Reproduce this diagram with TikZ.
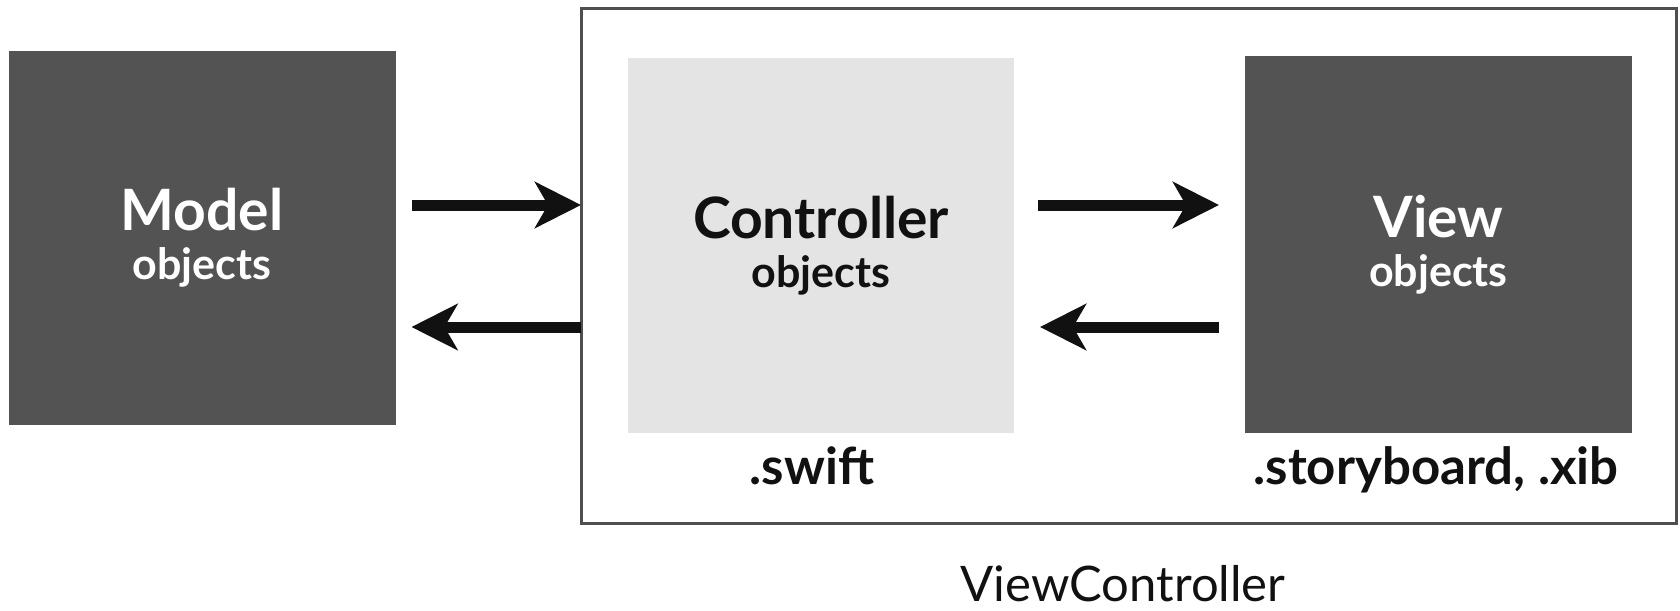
\documentclass[tikz,border=0pt]{standalone}
\usepackage{fontspec}
\setmainfont{Lato}
\usetikzlibrary{arrows.meta}
\definecolor{darkbox}{HTML}{535353}
\definecolor{lightbox}{HTML}{E4E4E4}
\definecolor{frame}{HTML}{4F4F4F}
\definecolor{ink}{HTML}{111111}
\tikzset{
  box/.style={rectangle, inner sep=0pt, outer sep=0pt, align=center,
    font=\bfseries\fontsize{57pt}{49pt}\selectfont},
  darkstyle/.style={box, fill=darkbox, text=white},
  lightstyle/.style={box, fill=lightbox, text=ink},
  frameline/.style={draw=frame, line width=3pt},
  arr/.style={line width=11pt, ink, -{Stealth[length=46pt, width=46pt, inset=13pt]}},
  lbl/.style={font=\bfseries\fontsize{51pt}{55pt}\selectfont, text=ink, anchor=base, inner sep=0pt},
  caption/.style={font=\fontsize{49pt}{55pt}\selectfont, text=ink, anchor=base, inner sep=0pt}
}
\newcommand{\subline}{\fontsize{43pt}{49pt}\selectfont}
\begin{document}
\begin{tikzpicture}[x=1pt,y=-1pt]
\useasboundingbox (0,0) rectangle (1680,610);
% outer ViewController frame
\node[frameline, rectangle, inner sep=0pt, outer sep=0pt, minimum width=1095pt, minimum height=514pt] (outer) at (1128.5,266) {};
% boxes
\node[darkstyle, minimum width=387pt, minimum height=374pt] (model) at (202,238) {Model\\{\subline objects}};
\node[lightstyle, minimum width=386pt, minimum height=375pt] (ctrl) at (821,245.5) {Controller\\{\subline objects}};
\node[darkstyle, minimum width=387pt, minimum height=377pt] (view) at (1438.5,244.5) {View\\{\subline objects}};
% labels
\node[lbl] (swift) at (812,484) {.swift};
\node[lbl] (sb) at (1436,484) {.storyboard, .xib};
\node[caption] (vc) at (1123,601) {ViewController};
% rows
\coordinate (r1) at (0,205);
\coordinate (r2) at (0,327);
% arrows
\draw[arr, shorten <=16pt] (model.east |- r1) -- (outer.west |- r1);
\draw[arr, shorten >=16pt] (outer.west |- r2) -- (model.east |- r2);
\draw[arr, shorten <=24pt, shorten >=26pt] (ctrl.east |- r1) -- (view.west |- r1);
\draw[arr, shorten <=26pt, shorten >=26pt] (view.west |- r2) -- (ctrl.east |- r2);
\end{tikzpicture}
\end{document}
